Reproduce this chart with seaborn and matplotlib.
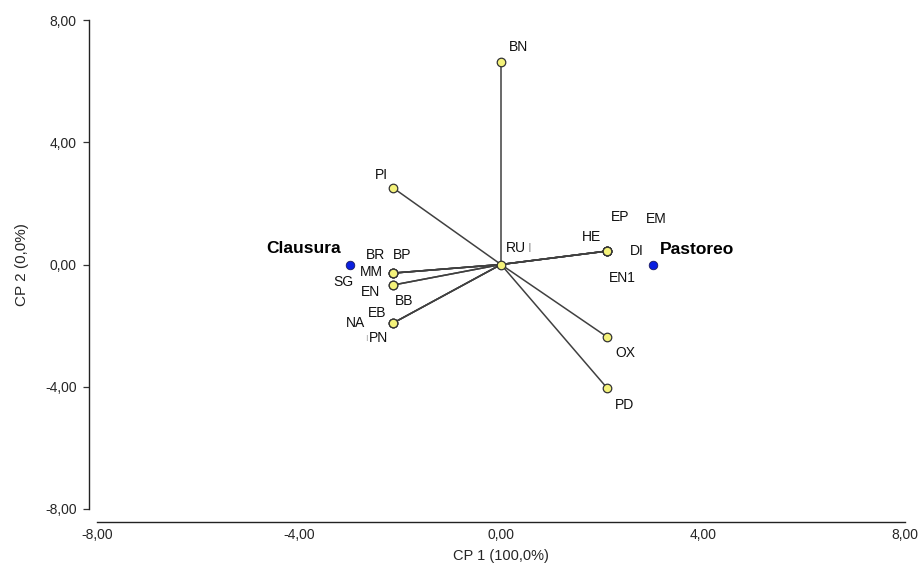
import numpy as np
import pandas as pd
import matplotlib
matplotlib.use('Agg')
import matplotlib.pyplot as plt
import seaborn as sns

# ── DATA ──────────────────────────────────────────────────────────────────────
# variables (yellow points) — many share the same biplot position
var_names = ['BN', 'PI', 'RU', 'BR', 'BP', 'MM', 'SG', 'EN', 'BB',
             'EB', 'NA', 'PN', 'HE', 'EP', 'EM', 'DI', 'EN1', 'OX', 'PD']
var_cp1 = [0.00, -2.13, 0.00, -2.13, -2.13, -2.13, -2.13, -2.13, -2.13,
           -2.13, -2.13, -2.13, 2.10, 2.10, 2.10, 2.10, 2.10, 2.10, 2.10]
var_cp2 = [6.63, 2.50, 0.00, -0.28, -0.28, -0.28, -0.28, -0.67, -0.67,
           -1.91, -1.91, -1.91, 0.44, 0.44, 0.44, 0.44, 0.44, -2.37, -4.04]

# groups (blue points)
grp_names = ['Clausura', 'Pastoreo']
grp_cp1 = [-3.00, 3.00]
grp_cp2 = [0.00, 0.00]

axis_ticks = [-8, -4, 0, 4, 8]
x_title = 'CP 1 (100,0%)'
y_title = 'CP 2 (0,0%)'

# label offsets (pixels) to mimic the original placement
var_offsets = {
    'BN': (17, 15), 'PI': (-12, 13), 'RU': (15, 16),
    'BR': (-18, 18), 'BP': (9, 18), 'MM': (-22, 1), 'SG': (-50, -9),
    'EN': (-23, -7), 'BB': (11, -16),
    'EB': (-16, 10), 'NA': (-38, 0), 'PN': (-15, -15),
    'HE': (-16, 14), 'EP': (13, 34), 'EM': (49, 32), 'DI': (30, 0),
    'EN1': (15, -27), 'OX': (18, -16), 'PD': (17, -17),
}
grp_offsets = {'Clausura': (-46, 16), 'Pastoreo': (44, 15)}

vars_df = pd.DataFrame({'name': var_names, 'cp1': var_cp1, 'cp2': var_cp2})
grps_df = pd.DataFrame({'name': grp_names, 'cp1': grp_cp1, 'cp2': grp_cp2})

# ── PLOT ──────────────────────────────────────────────────────────────────────
sns.set_style('ticks')
plt.rcParams['font.family'] = ['Liberation Sans', 'DejaVu Sans']

fig = plt.figure(figsize=(9.21, 5.65), dpi=100)
ax = fig.add_axes([97 / 921, 1 - 509 / 565, 808 / 921, 489 / 565])

# vectors from origin
for _, r in vars_df.iterrows():
    ax.plot([0, r['cp1']], [0, r['cp2']], color='#404040', linewidth=1.1,
            zorder=2, solid_capstyle='round')

sns.scatterplot(data=vars_df, x='cp1', y='cp2', ax=ax, s=38,
                color='#f4f27a', edgecolor='#333333', linewidth=0.9, zorder=3)
sns.scatterplot(data=grps_df, x='cp1', y='cp2', ax=ax, s=38,
                color='#0a1fe0', edgecolor='#1a1a60', linewidth=0.6, zorder=3)

for _, r in vars_df.iterrows():
    ax.annotate(r['name'], (r['cp1'], r['cp2']), xytext=var_offsets[r['name']],
                textcoords='offset pixels', ha='center', va='center',
                fontsize=10, color='#111111', zorder=4)
# faint overlapped label marks
ax.annotate('I', (0, 0), xytext=(29, 16), textcoords='offset pixels',
            ha='center', va='center', fontsize=9.5, color='#999999')
ax.annotate('ı', (-2.13, -1.91), xytext=(-27, -15), textcoords='offset pixels',
            ha='center', va='center', fontsize=7, color='#aaaaaa')

for _, r in grps_df.iterrows():
    ax.annotate(r['name'], (r['cp1'], r['cp2']), xytext=grp_offsets[r['name']],
                textcoords='offset pixels', ha='center', va='center',
                fontsize=12.5, fontweight='bold', color='#000000', zorder=4)

ax.set_xlim(-8, 8)
ax.set_ylim(-8, 8)
ax.set_xticks(axis_ticks)
ax.set_yticks(axis_ticks)
ax.set_xticklabels([f'{t:.2f}'.replace('.', ',') for t in axis_ticks])
ax.set_yticklabels([f'{t:.2f}'.replace('.', ',') for t in axis_ticks])
ax.tick_params(axis='x', length=0, pad=5, labelsize=10)
ax.tick_params(axis='y', length=4.5, width=0.9, pad=4, labelsize=10,
               color='#333333')

sns.despine(ax=ax)
ax.spines['left'].set_position(('outward', 6))
ax.spines['bottom'].set_position(('outward', 9))
ax.spines['left'].set_linewidth(1.0)
ax.spines['bottom'].set_linewidth(1.0)
ax.spines['left'].set_color('#222222')
ax.spines['bottom'].set_color('#222222')

ax.set_xlabel(x_title, fontsize=10.5, labelpad=5)
ax.set_ylabel(y_title, fontsize=11, labelpad=12)

fig.savefig('out.png', dpi=100)
